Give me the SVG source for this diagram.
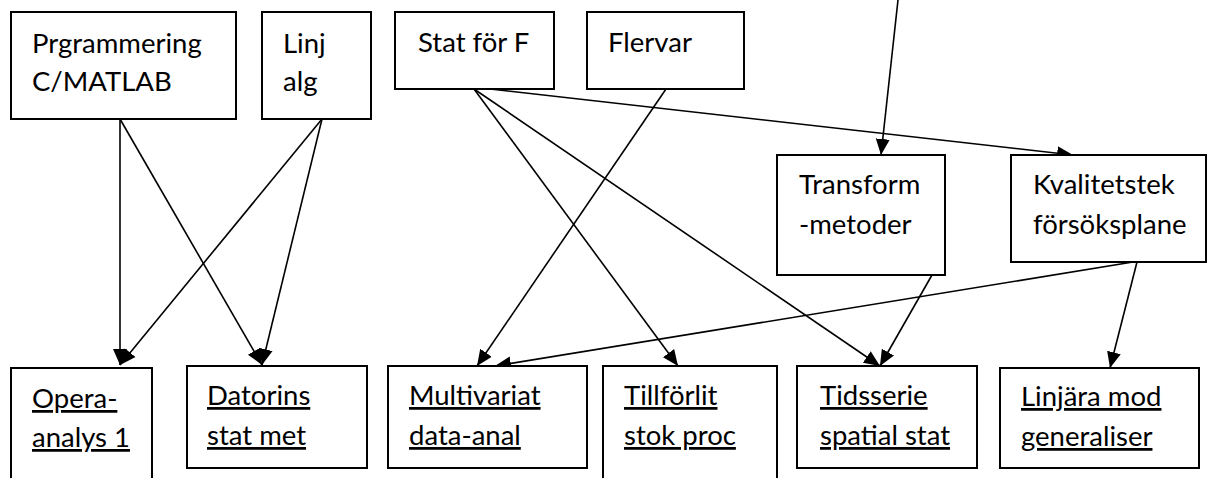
<svg xmlns="http://www.w3.org/2000/svg" width="1207" height="478" viewBox="0 0 1207 478">
<style>
rect{fill:#fff;stroke:#000;stroke-width:2}
text{font-family:Lato,"Liberation Sans",sans-serif;font-size:27.5px;fill:#000}
.u{text-decoration:underline}
.c line{stroke:#000;stroke-width:1.6}
</style>
<defs>
<marker id="a" markerUnits="userSpaceOnUse" markerWidth="18" markerHeight="16" refX="16" refY="8" orient="auto"><path d="M0,1L16,8L0,15Z" fill="#000"/></marker>
</defs>
<g class="c">
<line x1="120" y1="119" x2="120" y2="365" marker-end="url(#a)"/>
<line x1="120" y1="119" x2="262" y2="365" marker-end="url(#a)"/>
<line x1="322" y1="119" x2="120" y2="365" marker-end="url(#a)"/>
<line x1="322" y1="119" x2="262" y2="365" marker-end="url(#a)"/>
<line x1="474" y1="89" x2="678" y2="366" marker-end="url(#a)"/>
<line x1="474" y1="89" x2="880" y2="366" marker-end="url(#a)"/>
<line x1="490" y1="89" x2="1073" y2="155" marker-end="url(#a)"/>
<line x1="666" y1="89" x2="477" y2="366" marker-end="url(#a)"/>
<line x1="898" y1="0" x2="881" y2="155" marker-end="url(#a)"/>
<line x1="932" y1="275" x2="880" y2="366" marker-end="url(#a)"/>
<line x1="1133" y1="262" x2="495" y2="366" marker-end="url(#a)"/>
<line x1="1137" y1="262" x2="1110" y2="368" marker-end="url(#a)"/>
</g>
<g id="prg"><rect x="11" y="12" width="225" height="107"/><text x="32" y="53">Prgrammering</text><text x="32" y="91">C/MATLAB</text></g>
<g id="linj"><rect x="262" y="12" width="109" height="107"/><text x="283" y="53">Linj</text><text x="283" y="91">alg</text></g>
<g id="stat"><rect x="395" y="12" width="159" height="77"/><text x="418" y="52">Stat för F</text></g>
<g id="flervar"><rect x="587" y="12" width="157" height="77"/><text x="608" y="52">Flervar</text></g>
<g id="transform"><rect x="777" y="155" width="168" height="120"/><text x="799" y="194">Transform</text><text x="799" y="234">-metoder</text></g>
<g id="kval"><rect x="1011" y="155" width="195" height="107"/><text x="1033" y="194">Kvalitetstek</text><text x="1033" y="234">försöksplane</text></g>
<g id="opera"><rect x="11" y="368" width="141" height="120"/><text class="u" x="32" y="408">Opera-</text><text class="u" x="32" y="447">analys 1</text></g>
<g id="datorins"><rect x="187" y="366" width="180" height="102"/><text class="u" x="207" y="405">Datorins</text><text class="u" x="207" y="445">stat met</text></g>
<g id="multi"><rect x="388" y="366" width="199" height="102"/><text class="u" x="409" y="405">Multivariat</text><text class="u" x="409" y="445">data-anal</text></g>
<g id="till"><rect x="603" y="366" width="174" height="122"/><text class="u" x="624" y="405">Tillförlit</text><text class="u" x="624" y="445">stok proc</text></g>
<g id="tids"><rect x="797" y="366" width="180" height="102"/><text class="u" x="820" y="405">Tidsserie</text><text class="u" x="820" y="445">spatial stat</text></g>
<g id="linjara"><rect x="1000" y="368" width="199" height="100"/><text class="u" x="1021" y="406">Linjära mod</text><text class="u" x="1021" y="446">generaliser</text></g>
</svg>
